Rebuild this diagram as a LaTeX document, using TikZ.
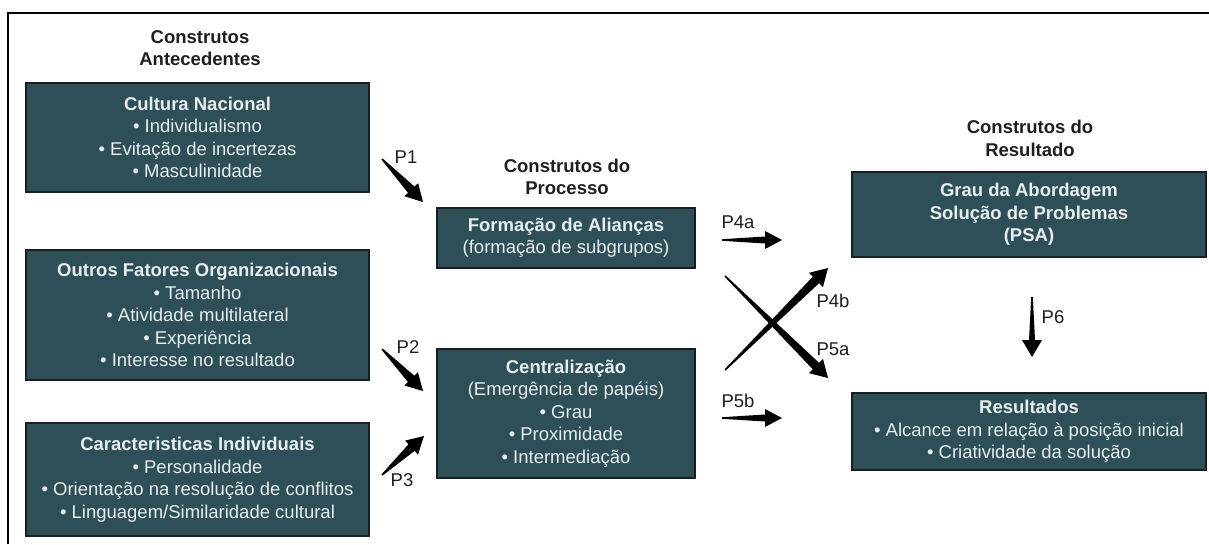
\documentclass[tikz,border=0pt]{standalone}
\usepackage{fontspec}
\setmainfont{Liberation Sans}
\usepackage{xcolor}
\usetikzlibrary{calc}

\definecolor{boxfill}{RGB}{46,79,87}
\definecolor{boxline}{RGB}{22,32,35}
\definecolor{boxtext}{RGB}{232,238,240}
\definecolor{labeltext}{RGB}{30,30,30}

% tapered arrow: start, end, shaft half width, head half width
\newcommand{\wedgearrow}[4]{%
\path ($(#2)!17pt!(#1)$) coordinate (wa-h);
\fill [black] ($(#1)!0.8pt!90:(#2)$) -- ($(wa-h)!#3!90:(#2)$) -- ($(wa-h)!#4!90:(#2)$) -- (#2)
  -- ($(wa-h)!#4!-90:(#2)$) -- ($(wa-h)!#3!-90:(#2)$) -- ($(#1)!0.8pt!-90:(#2)$) -- cycle;
}

\begin{document}
\begin{tikzpicture}[x=1pt,y=-1pt,font=\fontsize{18.5}{22.5}\selectfont]
\tikzset{every node/.style={inner sep=0pt}}
\tikzset{box/.style={draw=boxline, line width=1.8pt, fill=boxfill, text=boxtext, align=center}}
\tikzset{heading/.style={align=center, text=labeltext, font=\fontsize{18.5}{22.5}\selectfont\bfseries}}
\tikzset{plabel/.style={text=labeltext}}
\useasboundingbox (0,0) rectangle (1209,544);
\draw [line width=2pt] (8,544) -- (8,12.5) -- (1209,12.5);
% headings
\node [heading] (h-ante) at (200,48) {Construtos\\Antecedentes};
\node [heading] (h-proc) at (567,177) {Construtos do\\Processo};
\node [heading] (h-res) at (1030,138.5) {Construtos do\\Resultado};
% antecedentes
\node [box, minimum width=343pt, minimum height=109pt] (cultura) at (197.5,137.5)
  {\textbf{Cultura Nacional}\\• Individualismo\\• Evitação de incertezas\\• Masculinidade};
\node [box, minimum width=343pt, minimum height=130pt] (outros) at (197.5,315)
  {\textbf{Outros Fatores Organizacionais}\\• Tamanho\\• Atividade multilateral\\• Experiência\\• Interesse no resultado};
\node [box, minimum width=343pt, minimum height=113pt] (caract) at (197.5,479.5)
  {\textbf{Caracteristicas Individuais}\\• Personalidade\\• Orientação na resolução de conflitos\\• Linguagem/Similaridade cultural};
% processo
\node [box, minimum width=258pt, minimum height=60pt] (alianca) at (566,238)
  {\textbf{Formação de Alianças}\\(formação de subgrupos)};
\node [box, minimum width=258pt, minimum height=129pt] (central) at (566,413.5)
  {\textbf{Centralização}\\(Emergência de papéis)\\• Grau\\• Proximidade\\• Intermediação};
% resultado
\node [box, minimum width=354pt, minimum height=85pt] (psa) at (1029,214.5)
  {\textbf{Grau da Abordagem}\\\textbf{Solução de Problemas}\\\textbf{(PSA)}};
\node [box, minimum width=354pt, minimum height=77pt] (result) at (1029,431.5)
  {\textbf{Resultados}\\• Alcance em relação à posição inicial\\• Criatividade da solução};
% arrows
\coordinate (p1-s) at (382,159);  \coordinate (p1-e) at (423,202);
\coordinate (p2-s) at (382,349);  \coordinate (p2-e) at (423,391);
\coordinate (p3-s) at (382,475);  \coordinate (p3-e) at (424,436);
\coordinate (p4a-s) at (722,240); \coordinate (p4a-e) at (782,240);
\coordinate (p5b-s) at (722,418); \coordinate (p5b-e) at (782,418);
\coordinate (p4b-s) at (725,370); \coordinate (p4b-e) at (828,268);
\coordinate (p5a-s) at (725,276); \coordinate (p5a-e) at (828,378);
\coordinate (p6-s) at (1032,297); \coordinate (p6-e) at (1032,357);
\wedgearrow{p1-s}{p1-e}{4.5pt}{9.5pt}
\wedgearrow{p2-s}{p2-e}{4.5pt}{9.5pt}
\wedgearrow{p3-s}{p3-e}{4.5pt}{9.5pt}
\wedgearrow{p4a-s}{p4a-e}{3.5pt}{9pt}
\wedgearrow{p5b-s}{p5b-e}{3.5pt}{9pt}
\wedgearrow{p4b-s}{p4b-e}{4.5pt}{10pt}
\wedgearrow{p5a-s}{p5a-e}{4.5pt}{10pt}
\wedgearrow{p6-s}{p6-e}{3pt}{10pt}
% labels
\node [plabel] (l-p1) at (406,157) {P1};
\node [plabel] (l-p2) at (408,347) {P2};
\node [plabel] (l-p3) at (402,480) {P3};
\node [plabel] (l-p4a) at (738,222) {P4a};
\node [plabel] (l-p5b) at (738,401) {P5b};
\node [plabel] (l-p4b) at (833,301) {P4b};
\node [plabel] (l-p5a) at (833,349) {P5a};
\node [plabel] (l-p6) at (1053,317) {P6};
\end{tikzpicture}
\end{document}
